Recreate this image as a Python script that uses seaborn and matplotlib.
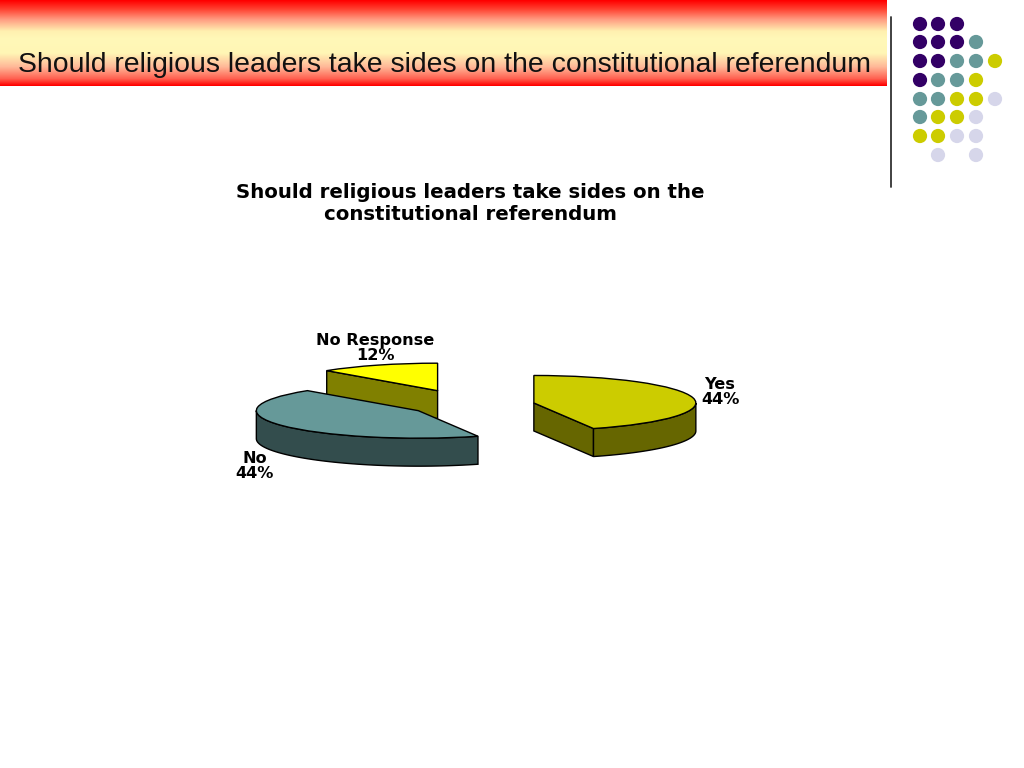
# slide with an exploded 3d style pie chart
import matplotlib
matplotlib.use('Agg')
import matplotlib.pyplot as plt
from matplotlib.colors import LinearSegmentedColormap
import seaborn as sns
import pandas as pd
import numpy as np

# chart data
categories = ['Yes', 'No', 'No Response']
shares = [44, 44, 12]
heading = 'Should religious leaders take sides on the constitutional referendum'
chart_title = 'Should religious leaders take sides on the\nconstitutional referendum'

# dots in the top right corner, one string per row
dot_rows = ['PPP', 'PPPT', 'PPTTY', 'PTTY', 'TTYYL', 'TYYL', 'YYLL', '.L.L']
dot_x = [920, 938, 957, 976, 995]
dot_y = [24, 42, 61, 80, 99, 117, 136, 155]
dot_palette = {'P': '#330066', 'T': '#669999', 'Y': '#CCCC00', 'L': '#D6D6EA'}

# styling of the slices
top_colors = ['#CCCC00', '#669999', '#FFFF00']
wall_colors = ['#666600', '#334D4D', '#808000']
explode = [0.395, 0.385, 0.56]
draw_order = [2, 0, 1]

# pie geometry in pixels
center_px = (471, 405)
rx_px, ry_px, depth_px = 162, 27.5, 28
box = (200, 300, 760, 500)  # left, top, right, bottom

sns.set_style('white')
plt.rcParams['font.family'] = ['Liberation Sans', 'DejaVu Sans']

fig = plt.figure(figsize=(10.24, 7.68), dpi=100, facecolor='white')

# background axes in pixel units
bg = fig.add_axes([0, 0, 1, 1])
bg.set_xlim(0, 1024)
bg.set_ylim(768, 0)
bg.axis('off')

band = LinearSegmentedColormap.from_list('band', [
    (0.0, '#FF0000'), (0.1, '#FF4030'), (0.22, '#FF9A80'), (0.36, '#FFF0B0'),
    (0.45, '#FFF8B8'), (0.62, '#FFF6B5'), (0.78, '#FFB898'), (0.92, '#FF6050'),
    (1.0, '#FF0000')])
bg.imshow(np.linspace(0, 1, 86).reshape(-1, 1), cmap=band, aspect='auto',
          extent=(0, 887, 86, 0), zorder=1)
bg.set_xlim(0, 1024)
bg.set_ylim(768, 0)
bg.plot([891, 891], [17, 187], color='#333333', lw=1.3, zorder=2)
bg.text(18, 65, heading, fontsize=20.4, color='#111111', va='center', ha='left', zorder=3)

dots = pd.DataFrame(
    [(dot_x[c], dot_y[r], k) for r, row in enumerate(dot_rows)
     for c, k in enumerate(row) if k != '.'],
    columns=['x', 'y', 'kind'])
sns.scatterplot(data=dots, x='x', y='y', hue='kind', palette=dot_palette,
                s=105, linewidth=0, legend=False, ax=bg, zorder=3)
bg.set_xlabel('')
bg.set_ylabel('')

# chart axes, the pie gets squashed by the limits
ax = fig.add_axes([box[0] / 1024, 1 - box[3] / 768,
                   (box[2] - box[0]) / 1024, (box[3] - box[1]) / 768])
ax.patch.set_alpha(0)
wedges, _ = ax.pie(shares, explode=explode, colors=top_colors, startangle=90,
                   counterclock=False,
                   wedgeprops={'edgecolor': 'black', 'linewidth': 1.0})
ax.set_aspect('auto')
ax.set_xlim((box[0] - center_px[0]) / rx_px, (box[2] - center_px[0]) / rx_px)
ax.set_ylim((center_px[1] - box[3]) / ry_px, (center_px[1] - box[1]) / ry_px)
ax.axis('off')

depth = depth_px / ry_px
edges = np.cumsum([0] + shares) / sum(shares) * 2 * np.pi


# point on the rim, angle runs clockwise from the top
def rim(cx, cy, theta):
    return cx + np.sin(theta), cy + np.cos(theta)


def add_wall(xs, ys, color, z):
    xs, ys = np.asarray(xs), np.asarray(ys)
    ax.fill(np.r_[xs, xs[::-1]], np.r_[ys, ys[::-1] - depth], facecolor=color,
            edgecolor='black', linewidth=1.0, zorder=z)


for z, i in enumerate(draw_order):
    start, end = edges[i], edges[i + 1]
    mid = (start + end) / 2
    cx = explode[i] * np.sin(mid)
    cy = explode[i] * np.cos(mid)
    base = z * 2 + 1
    # cut faces that look towards the viewer
    if np.sin(start) < -1e-6:
        px, py = rim(cx, cy, start)
        add_wall([px, cx], [py, cy], wall_colors[i], base)
    if np.sin(end) > 1e-6:
        px, py = rim(cx, cy, end)
        add_wall([cx, px], [cy, py], wall_colors[i], base)
    # outer wall, only the front half of the rim
    lo, hi = max(start, np.pi / 2), min(end, 3 * np.pi / 2)
    if hi > lo:
        arc = np.linspace(lo, hi, 60)
        add_wall(*rim(cx, cy, arc), wall_colors[i], base)
    wedges[i].set_zorder(base + 1)

# texts
label_font = {'family': ['DejaVu Sans'], 'fontweight': 'bold', 'color': 'black',
              'ha': 'center', 'va': 'center'}
label_pos = [(720, 392), (255, 466), (375, 348)]
for name, share, (lx, ly) in zip(categories, shares, label_pos):
    bg.text(lx, ly, f'{name}\n{share}%', fontsize=11.6, linespacing=1.0, zorder=10, **label_font)
bg.text(470, 203, chart_title, fontsize=14.2, linespacing=1.2, zorder=10, **label_font)

fig.savefig('out.png', dpi=100)
